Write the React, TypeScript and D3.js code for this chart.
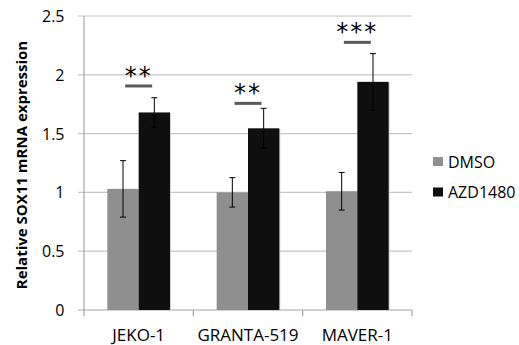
import React from "react";
import * as d3 from "d3";

const categories = ["JEKO-1", "GRANTA-519", "MAVER-1"];
const seriesNames = ["DMSO", "AZD1480"];
const dmso = [1.03, 1.0, 1.01];
const dmsoErr = [0.24, 0.125, 0.16];
const azd = [1.68, 1.545, 1.94];
const azdErr = [0.125, 0.17, 0.24];
const sigLabels = ["**", "**", "***"];
const sigLevels = [1.905, 1.757, 2.276];
const yTicks = [0, 0.5, 1, 1.5, 2, 2.5];
const yTickLabels = ["0", "0.5", "1", "1.5", "2", "2.5"];

const colors = ["#8f8f8f", "#0f0f0f"];
const FONT = "'Open Sans', 'Liberation Sans', sans-serif";

export default function App() {
  const W = 519, H = 345;
  const left = 84, right = 412, top = 16, bottom = 310;
  const y = d3.scaleLinear().domain([0, 2.5]).range([bottom, top]);
  const x0 = d3.scaleBand<string>().domain(categories).range([left, right]).padding(0);
  const x1 = d3.scaleBand<string>().domain(seriesNames).range([0, x0.bandwidth()]).paddingInner(0).paddingOuter(0.745);
  const values = [dmso, azd];
  const errs = [dmsoErr, azdErr];
  const boundaries = [left, ...categories.map((c) => (x0(c) as number) + x0.bandwidth())];

  return (
    <svg width={W} height={H} style={{ position: "absolute", left: 0, top: 0, background: "#fff" }} fontFamily={FONT}>
      {/* gridlines */}
      {yTicks.map((t, i) => (
        <g key={i}>
          <line x1={left - 6} x2={right} y1={y(t)} y2={y(t)} stroke={i === 0 ? "#a6a6a6" : "#c4c4c4"} strokeWidth={1.2} />
          <text x={64.5} y={y(t)} textAnchor="end" dominantBaseline="central" fontSize={16} fill="#000">{yTickLabels[i]}</text>
        </g>
      ))}
      {/* y axis */}
      <line x1={left} x2={left} y1={top} y2={bottom} stroke="#a6a6a6" strokeWidth={1.2} />
      {/* x ticks */}
      {boundaries.map((b, i) => (
        <line key={i} x1={b} x2={b} y1={bottom} y2={bottom + 6} stroke="#a6a6a6" strokeWidth={1.2} />
      ))}
      {/* bars */}
      {categories.map((c, ci) => (
        <g key={c} transform={`translate(${x0(c)},0)`}>
          {seriesNames.map((s, si) => {
            const v = values[si][ci];
            const e = errs[si][ci];
            const bx = x1(s) as number;
            const cx = bx + x1.bandwidth() / 2;
            return (
              <g key={s}>
                <rect x={bx + 1} y={y(v) + 1} width={x1.bandwidth()} height={bottom - y(v)} fill="#d0d0d0" />
                <rect x={bx} y={y(v)} width={x1.bandwidth()} height={bottom - y(v)} fill={colors[si]} />
                <line x1={cx} x2={cx} y1={y(v + e)} y2={y(v - e)} stroke="#000" strokeWidth={1} />
                <line x1={cx - 3} x2={cx + 3} y1={y(v + e)} y2={y(v + e)} stroke="#000" strokeWidth={1} />
                <line x1={cx - 3} x2={cx + 3} y1={y(v - e)} y2={y(v - e)} stroke="#000" strokeWidth={1} />
              </g>
            );
          })}
          <line x1={x0.bandwidth() / 2 - 13.5} x2={x0.bandwidth() / 2 + 13.5} y1={y(sigLevels[ci])} y2={y(sigLevels[ci])} stroke="#5a5a5a" strokeWidth={3} />
          <text x={x0.bandwidth() / 2} y={y(sigLevels[ci]) - 2} textAnchor="middle" fontSize={24} fontFamily="'DejaVu Sans', sans-serif" letterSpacing={2} fill="#000">{sigLabels[ci]}</text>
          <text x={x0.bandwidth() / 2} y={334} textAnchor="middle" dominantBaseline="central" fontSize={17} fill="#000">{c}</text>
        </g>
      ))}
      {/* legend */}
      {seriesNames.map((s, i) => (
        <g key={s} transform={`translate(433,${157 + i * 30.5})`}>
          <rect x={0} y={0} width={10} height={9} fill={colors[i]} />
          <text x={15} y={4.7} dominantBaseline="central" fontSize={16} fill="#000">{s}</text>
        </g>
      ))}
      {/* y title */}
      <text transform={`translate(21,165) rotate(-90)`} textAnchor="middle" dominantBaseline="central" fontSize={15} fontWeight="bold" fill="#000">Relative SOX11 mRNA expression</text>
    </svg>
  );
}
